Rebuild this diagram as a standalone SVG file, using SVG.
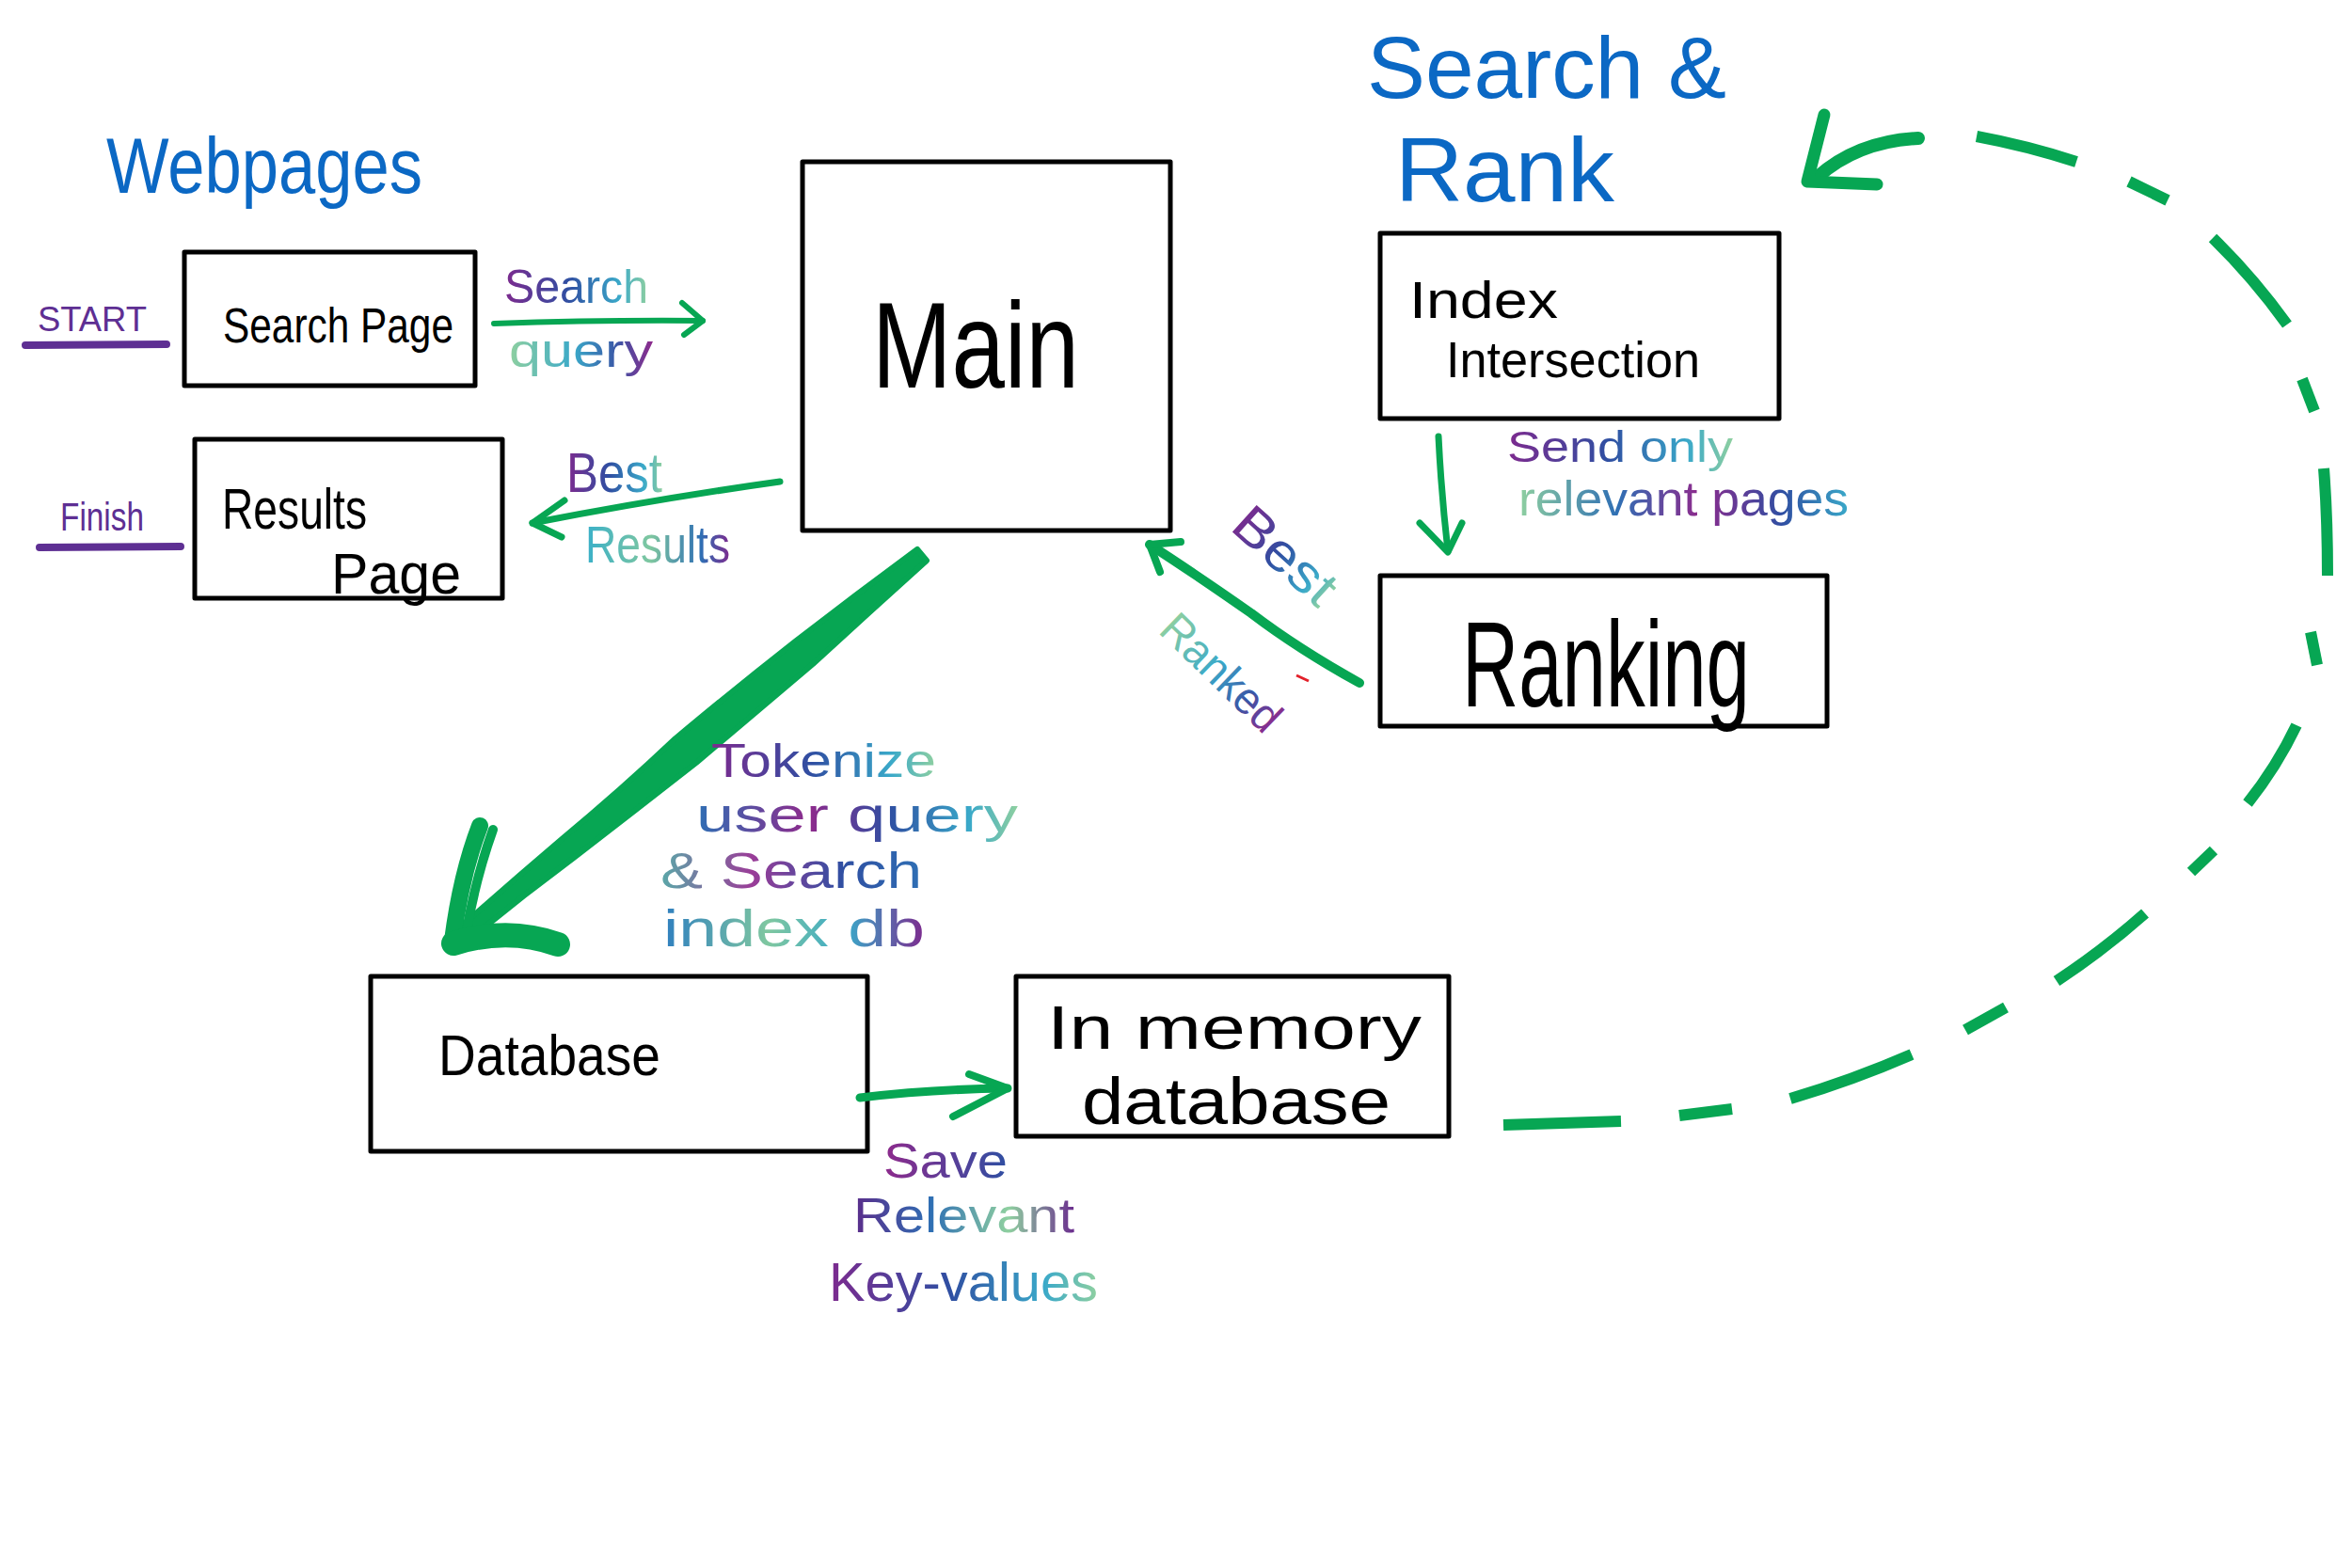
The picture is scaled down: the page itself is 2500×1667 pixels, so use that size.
<svg xmlns="http://www.w3.org/2000/svg" width="2500" height="1667" viewBox="0 0 2500 1667">
<defs>
<style>
.box{fill:none;stroke:#000;stroke-width:5;stroke-linejoin:round}
.bt{font-family:"Liberation Sans","DejaVu Sans",sans-serif;fill:#000}
.title{font-family:"Liberation Sans","DejaVu Sans",sans-serif;fill:#0b68c4}
.lbl{font-family:"Liberation Sans","DejaVu Sans",sans-serif}
.side{font-family:"Liberation Sans","DejaVu Sans",sans-serif;fill:#5e2f93}
.gl{fill:none;stroke:#07a653;stroke-linecap:round;stroke-linejoin:round}
.dash{fill:none;stroke:#07a653;stroke-width:12;stroke-linecap:butt}
</style>
<linearGradient id="gA" x1="0" y1="0" x2="1" y2="0"><stop offset="0" stop-color="#7d2a8e"/><stop offset="0.45" stop-color="#2f4fa2"/><stop offset="0.8" stop-color="#3aa9c9"/><stop offset="1" stop-color="#8fd0a0"/></linearGradient>
<linearGradient id="gB" x1="0" y1="0" x2="1" y2="0"><stop offset="0" stop-color="#8fd0a0"/><stop offset="0.45" stop-color="#3aa9c9"/><stop offset="0.75" stop-color="#3a56a6"/><stop offset="1" stop-color="#8e2a8c"/></linearGradient>
<linearGradient id="gC" x1="0" y1="0" x2="1" y2="0"><stop offset="0" stop-color="#2f6fb4"/><stop offset="0.35" stop-color="#8e2a8c"/><stop offset="0.6" stop-color="#2f4fa2"/><stop offset="0.85" stop-color="#3aa9c9"/><stop offset="1" stop-color="#8fd0a0"/></linearGradient>
<linearGradient id="gD" x1="0" y1="0" x2="1" y2="0"><stop offset="0" stop-color="#5aa8a8"/><stop offset="0.35" stop-color="#9a3d98"/><stop offset="0.7" stop-color="#2f4fa2"/><stop offset="1" stop-color="#2f6fb4"/></linearGradient>
<linearGradient id="gE" x1="0" y1="0" x2="1" y2="0"><stop offset="0" stop-color="#2f7fbf"/><stop offset="0.4" stop-color="#7fc7a0"/><stop offset="0.7" stop-color="#3aa9c9"/><stop offset="1" stop-color="#7d2a8e"/></linearGradient>
<linearGradient id="gF" x1="0" y1="0" x2="1" y2="0"><stop offset="0" stop-color="#8fd0a0"/><stop offset="0.3" stop-color="#2f6fb4"/><stop offset="0.55" stop-color="#8e2a8c"/><stop offset="0.8" stop-color="#2f4fa2"/><stop offset="1" stop-color="#3aa9c9"/></linearGradient>
<linearGradient id="gG" x1="0" y1="0" x2="1" y2="0"><stop offset="0" stop-color="#8e2a8c"/><stop offset="1" stop-color="#2f4fa2"/></linearGradient>
<linearGradient id="gH" x1="0" y1="0" x2="1" y2="0"><stop offset="0" stop-color="#5b2c8a"/><stop offset="0.35" stop-color="#2f6fb4"/><stop offset="0.7" stop-color="#8fd0a0"/><stop offset="1" stop-color="#6b2c8e"/></linearGradient>
<linearGradient id="gI" x1="0" y1="0" x2="1" y2="0"><stop offset="0" stop-color="#3ab0c9"/><stop offset="0.45" stop-color="#7fc7a0"/><stop offset="0.8" stop-color="#2f6fb4"/><stop offset="1" stop-color="#7d2a8e"/></linearGradient>
</defs>
<rect width="2500" height="1667" fill="#fff"/>

<g id="titles">
<text class="title" x="113" y="205" font-size="84" textLength="336" lengthAdjust="spacingAndGlyphs">Webpages</text>
<text class="title" x="1453" y="104" font-size="92" textLength="382" lengthAdjust="spacingAndGlyphs">Search &amp;</text>
<text class="title" x="1483" y="214" font-size="96" textLength="233" lengthAdjust="spacingAndGlyphs">Rank</text>
</g>

<g id="start">
<text class="side" x="40" y="352" font-size="36" textLength="116" lengthAdjust="spacingAndGlyphs">START</text>
<line x1="27" y1="367" x2="177" y2="366" stroke="#5e2f93" stroke-width="8" stroke-linecap="round"/>
</g>
<g id="finish">
<text class="side" x="64" y="564" font-size="42" textLength="89" lengthAdjust="spacingAndGlyphs">Finish</text>
<line x1="42" y1="582" x2="192" y2="581" stroke="#5e2f93" stroke-width="8" stroke-linecap="round"/>
</g>

<g id="search-page">
<rect class="box" x="196" y="268" width="309" height="142"/>
<text class="bt" x="237" y="364" font-size="51" textLength="245" lengthAdjust="spacingAndGlyphs">Search Page</text>
</g>
<g id="results-page">
<rect class="box" x="207" y="467" width="327" height="169"/>
<text class="bt" x="236" y="562" font-size="62" textLength="154" lengthAdjust="spacingAndGlyphs">Results</text>
<text class="bt" x="352" y="631" font-size="62" textLength="138" lengthAdjust="spacingAndGlyphs">Page</text>
</g>
<g id="main">
<rect class="box" x="853" y="172" width="391" height="392"/>
<text class="bt" x="927" y="412" font-size="130" textLength="220" lengthAdjust="spacingAndGlyphs">Main</text>
</g>
<g id="index-intersection">
<rect class="box" x="1467" y="248" width="424" height="197"/>
<text class="bt" x="1498" y="338" font-size="56" textLength="158" lengthAdjust="spacingAndGlyphs">Index</text>
<text class="bt" x="1537" y="401" font-size="54" textLength="270" lengthAdjust="spacingAndGlyphs">Intersection</text>
</g>
<g id="ranking">
<rect class="box" x="1467" y="612" width="475" height="160"/>
<text class="bt" x="1554" y="751" font-size="130" textLength="306" lengthAdjust="spacingAndGlyphs">Ranking</text>
</g>
<g id="database">
<rect class="box" x="394" y="1038" width="528" height="186"/>
<text class="bt" x="466" y="1143" font-size="62" textLength="236" lengthAdjust="spacingAndGlyphs">Database</text>
</g>
<g id="in-memory-database">
<rect class="box" x="1080" y="1038" width="460" height="170"/>
<text class="bt" x="1113" y="1115" font-size="64" textLength="398" lengthAdjust="spacingAndGlyphs">In memory</text>
<text class="bt" x="1150" y="1195" font-size="70" textLength="328" lengthAdjust="spacingAndGlyphs">database</text>
</g>

<g id="connectors">
<!-- Search Page -> Main -->
<path class="gl" stroke-width="6" d="M525,344 Q640,340 747,341"/>
<path class="gl" stroke-width="6" d="M725,322 L747,341 L727,356"/>
<!-- Main -> Results Page -->
<path class="gl" stroke-width="7" d="M829,512 Q700,530 566,556"/>
<path class="gl" stroke-width="7" d="M600,532 L566,556 L597,571"/>
<!-- Main -> Database (thick) -->
<path fill="#07a653" stroke="#07a653" stroke-width="6" stroke-linejoin="round" d="M985,596 Q925,650 864,706 Q800,760 740,811 Q675,862 611,911 Q545,960 483,1012 L473,1000 Q535,945 596,893 Q660,840 718,785 Q780,733 845,682 Q910,632 975,584 Z"/>
<path class="gl" stroke-width="18" d="M481,1000 Q490,930 510,878"/>
<path class="gl" stroke-width="10" d="M495,995 Q505,935 524,882"/>
<path class="gl" stroke-width="26" d="M482,1003 Q540,985 593,1004"/>
<!-- Index Intersection -> Ranking -->
<path class="gl" stroke-width="7" d="M1529,464 Q1532,525 1539,586"/>
<path class="gl" stroke-width="7" d="M1509,556 L1539,587 L1554,556"/>
<!-- Ranking -> Main -->
<path class="gl" stroke-width="10" d="M1445,726 Q1380,690 1330,652 Q1270,610 1222,579"/>
<path class="gl" stroke-width="8" d="M1255,576 L1222,579 L1233,608"/>
<line x1="1378" y1="718" x2="1391" y2="724" stroke="#e3202a" stroke-width="3"/>
<!-- Database -> In memory database -->
<path class="gl" stroke-width="9" d="M914,1167 Q990,1158 1071,1157"/>
<path class="gl" stroke-width="8" d="M1030,1142 L1071,1157 L1013,1187"/>
<!-- In memory database -> Search & Rank (dashed) -->
<g>
<path class="dash" d="M1598,1196 L1723,1192"/>
<path class="dash" d="M1785,1186 L1841,1179"/>
<path class="dash" d="M1903,1168 Q1970,1148 2032,1121"/>
<path class="dash" d="M2089,1095 L2132,1071"/>
<path class="dash" d="M2186,1043 Q2236,1010 2280,971"/>
<path class="dash" d="M2329,927 L2353,904"/>
<path class="dash" d="M2389,854 Q2420,815 2441,771"/>
<path class="dash" d="M2456,672 L2463,707"/>
<path class="dash" d="M2470,498 Q2474,550 2474,612"/>
<path class="dash" d="M2447,403 L2460,437"/>
<path class="dash" d="M2352,253 Q2395,295 2431,345"/>
<path class="dash" d="M2263,193 L2304,213"/>
<path class="dash" d="M2101,145 Q2155,155 2207,172"/>
<path class="gl" stroke-width="14" d="M2039,147 Q1975,150 1932,188"/>
<path class="gl" stroke-width="13" d="M1939,122 L1921,193 L1995,196"/>
</g>
</g>

<g id="labels">
<text class="lbl" fill="url(#gA)" x="536" y="322" font-size="50" textLength="153" lengthAdjust="spacingAndGlyphs">Search</text>
<text class="lbl" fill="url(#gB)" x="541" y="390" font-size="50" textLength="153" lengthAdjust="spacingAndGlyphs">query</text>
<text class="lbl" fill="url(#gA)" x="602" y="523" font-size="60" textLength="102" lengthAdjust="spacingAndGlyphs">Best</text>
<text class="lbl" fill="url(#gI)" x="622" y="598" font-size="56" textLength="154" lengthAdjust="spacingAndGlyphs">Results</text>
<text class="lbl" fill="url(#gA)" x="756" y="826" font-size="50" textLength="239" lengthAdjust="spacingAndGlyphs">Tokenize</text>
<text class="lbl" fill="url(#gC)" x="740" y="884" font-size="52" textLength="342" lengthAdjust="spacingAndGlyphs">user query</text>
<text class="lbl" fill="url(#gD)" x="702" y="944" font-size="54" textLength="278" lengthAdjust="spacingAndGlyphs">&amp; Search</text>
<text class="lbl" fill="url(#gE)" x="705" y="1006" font-size="55" textLength="278" lengthAdjust="spacingAndGlyphs">index db</text>
<text class="lbl" fill="url(#gA)" x="1602" y="491" font-size="46" textLength="240" lengthAdjust="spacingAndGlyphs">Send only</text>
<text class="lbl" fill="url(#gF)" x="1614" y="548" font-size="52" textLength="351" lengthAdjust="spacingAndGlyphs">relevant pages</text>
<text class="lbl" fill="url(#gA)" x="1306" y="562" font-size="56" textLength="128" lengthAdjust="spacingAndGlyphs" transform="rotate(42 1306 562)">Best</text>
<text class="lbl" fill="url(#gB)" x="1230" y="672" font-size="48" textLength="158" lengthAdjust="spacingAndGlyphs" transform="rotate(44 1230 672)">Ranked</text>
<text class="lbl" fill="url(#gG)" x="939" y="1252" font-size="52" textLength="132" lengthAdjust="spacingAndGlyphs">Save</text>
<text class="lbl" fill="url(#gH)" x="907" y="1310" font-size="52" textLength="235" lengthAdjust="spacingAndGlyphs">Relevant</text>
<text class="lbl" fill="url(#gA)" x="881" y="1383" font-size="58" textLength="286" lengthAdjust="spacingAndGlyphs">Key-values</text>
</g>
</svg>
